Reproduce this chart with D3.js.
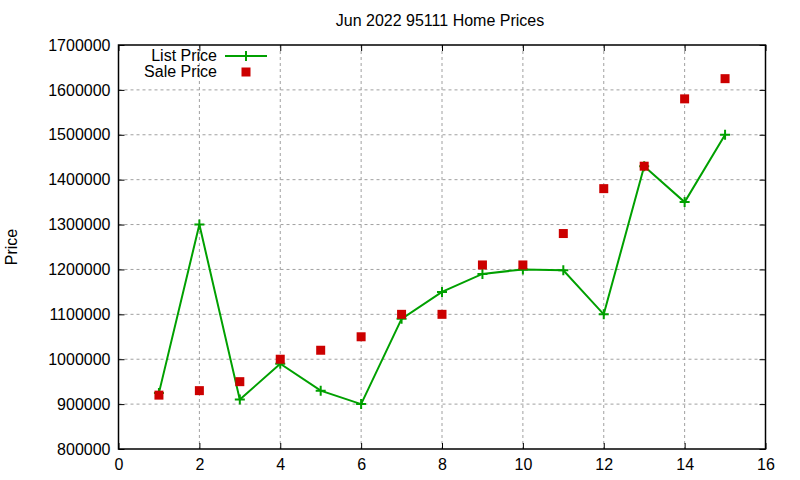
<!DOCTYPE html>
<html>
<head>
<meta charset="utf-8">
<script src="https://cdn.jsdelivr.net/npm/d3@7"></script>
<style>
  body { margin: 0; background: #fff; }
  text { font-family: "Liberation Sans", Arial, sans-serif; }
</style>
</head>
<body>
<div id="chart"></div>
<script>
var months = [1, 2, 3, 4, 5, 6, 7, 8, 9, 10, 11, 12, 13, 14, 15];
var listPrice = [925000, 1300000, 910000, 990000, 930000, 900000, 1090000, 1150000,
    1190000, 1200000, 1198000, 1100000, 1430000, 1350000, 1500000];
var salePrice = [920000, 930000, 950000, 1000000, 1020000, 1050000, 1100000, 1100000,
    1210000, 1210000, 1280000, 1380000, 1430000, 1580000, 1625000];
var xTicks = [0, 2, 4, 6, 8, 10, 12, 14, 16];
var yTicks = [800000, 900000, 1000000, 1100000, 1200000, 1300000, 1400000, 1500000, 1600000, 1700000];

var svgWidth = 800;
var svgHeight = 480;
var margin = { top: 45, left: 118.5, right: 34.5, bottom: 31 };
var width = svgWidth - margin.left - margin.right;
var height = svgHeight - margin.top - margin.bottom;

var svg = d3.select("#chart")
    .append("svg")
    .attr("width", svgWidth)
    .attr("height", svgHeight);

var g = svg.append("g")
    .attr("transform", `translate(${margin.left}, ${margin.top})`);

var x = d3.scaleLinear().domain([0, 16]).range([0, width]);
var y = d3.scaleLinear().domain([800000, 1700000]).range([height, 0]);

// grid
g.selectAll(".vgrid")
    .data(xTicks.slice(1, -1))
    .enter().append("line")
    .attr("x1", d => x(d)).attr("x2", d => x(d))
    .attr("y1", 0).attr("y2", height)
    .attr("stroke", "#a0a0a0").attr("stroke-dasharray", "3,3");
g.selectAll(".hgrid")
    .data(yTicks.slice(1, -1))
    .enter().append("line")
    .attr("x1", 0).attr("x2", width)
    .attr("y1", d => y(d)).attr("y2", d => y(d))
    .attr("stroke", "#a0a0a0").attr("stroke-dasharray", "3,3");

// axes (ticks pointing inward, mirrored)
var xAxis = g.append("g")
    .attr("transform", `translate(0, ${height})`)
    .call(d3.axisBottom(x).tickValues(xTicks).tickSize(-6).tickPadding(10).tickFormat(d3.format("d")));
var xTop = g.append("g")
    .call(d3.axisTop(x).tickValues(xTicks).tickSize(-6).tickFormat(""));
var yAxis = g.append("g")
    .call(d3.axisLeft(y).tickValues(yTicks).tickSize(-6).tickPadding(8).tickFormat(d3.format("d")));
var yRight = g.append("g")
    .attr("transform", `translate(${width}, 0)`)
    .call(d3.axisRight(y).tickValues(yTicks).tickSize(-6).tickFormat(""));

[xAxis, xTop, yAxis, yRight].forEach(function (a) {
    a.select(".domain").remove();
    a.selectAll("line").attr("stroke", "#000");
    a.selectAll("text").attr("font-size", 16).attr("fill", "#000")
        .style("font-family", "'Liberation Sans', Arial, sans-serif");
});

// border
g.append("rect")
    .attr("x", 0).attr("y", 0)
    .attr("width", width).attr("height", height)
    .attr("fill", "none").attr("stroke", "#000").attr("stroke-width", 1.5);

var listData = months.map((m, i) => ({ m: m, v: listPrice[i] }));
var saleData = months.map((m, i) => ({ m: m, v: salePrice[i] }));

var line = d3.line().x(d => x(d.m)).y(d => y(d.v));

g.append("path")
    .datum(listData)
    .attr("d", line)
    .attr("fill", "none")
    .attr("stroke", "#00a000")
    .attr("stroke-width", 2);

g.selectAll(".plus")
    .data(listData)
    .enter().append("path")
    .attr("d", d => `M${x(d.m) - 5},${y(d.v)}h10M${x(d.m)},${y(d.v) - 5}v10`)
    .attr("stroke", "#00a000")
    .attr("stroke-width", 2);

g.selectAll(".sq")
    .data(saleData)
    .enter().append("rect")
    .attr("x", d => x(d.m) - 4.5)
    .attr("y", d => y(d.v) - 4.5)
    .attr("width", 9).attr("height", 9)
    .attr("fill", "#cc0000");

// legend
var legend = svg.append("g");
legend.append("text")
    .attr("x", 217).attr("y", 61)
    .attr("text-anchor", "end")
    .attr("font-size", 16)
    .text("List Price");
legend.append("line")
    .attr("x1", 225).attr("x2", 267)
    .attr("y1", 56).attr("y2", 56)
    .attr("stroke", "#00a000").attr("stroke-width", 2);
legend.append("path")
    .attr("d", "M241,56h10M246,51v10")
    .attr("stroke", "#00a000").attr("stroke-width", 2);
legend.append("text")
    .attr("x", 217).attr("y", 77)
    .attr("text-anchor", "end")
    .attr("font-size", 16)
    .text("Sale Price");
legend.append("rect")
    .attr("x", 241.5).attr("y", 67.5)
    .attr("width", 9).attr("height", 9)
    .attr("fill", "#cc0000");

// title and axis label
svg.append("text")
    .attr("x", 440).attr("y", 26)
    .attr("text-anchor", "middle")
    .attr("font-size", 16)
    .text("Jun 2022 95111 Home Prices");

svg.append("text")
    .attr("transform", "translate(17, 247) rotate(-90)")
    .attr("text-anchor", "middle")
    .attr("font-size", 16)
    .text("Price");
</script>
</body>
</html>
